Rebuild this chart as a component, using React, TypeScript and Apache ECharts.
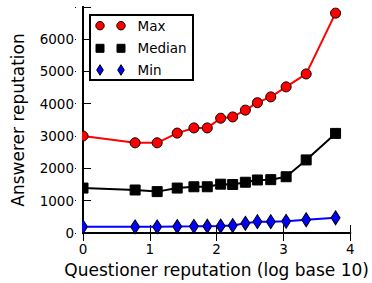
import React, { useEffect, useRef } from "react";
import * as echarts from "echarts";

const xs = [0, 0.78, 1.11, 1.41, 1.66, 1.86, 2.06, 2.24, 2.43, 2.61, 2.81, 3.04, 3.34, 3.78];
const maxV = [3000, 2790, 2790, 3090, 3250, 3250, 3550, 3590, 3800, 4030, 4210, 4520, 4920, 6800];
const medianV = [1390, 1330, 1280, 1390, 1430, 1430, 1510, 1500, 1570, 1640, 1650, 1740, 2260, 3080];
const minV = [190, 190, 190, 200, 205, 210, 215, 230, 300, 350, 350, 360, 410, 470];
const seriesNames = ["Max", "Median", "Min"];
const seriesColors = ["#ff0000", "#000000", "#0000ff"];
const xTitle = "Questioner reputation (log base 10)";
const yTitle = "Answerer reputation";

const FONT = "DejaVu Sans";

function legendGraphic() {
  const left = 90, top = 15, w = 103, h = 65;
  const rows = [25.7, 48.3, 70];
  const mx = [100, 121];
  const children: any[] = [
    { type: "rect", shape: { x: left, y: top, width: w, height: h }, style: { fill: "#fff", stroke: "#000", lineWidth: 2 } },
  ];
  rows.forEach((cy, i) => {
    mx.forEach((cx) => {
      const style = { fill: seriesColors[i], stroke: "#000", lineWidth: 1 };
      if (i === 0) children.push({ type: "circle", shape: { cx, cy, r: 4.2 }, style });
      else if (i === 1) children.push({ type: "rect", shape: { x: cx - 4, y: cy - 4, width: 8, height: 8 }, style });
      else children.push({ type: "polygon", shape: { points: [[cx, cy - 5.3], [cx + 3.3, cy], [cx, cy + 5.3], [cx - 3.3, cy]] }, style });
    });
    children.push({
      type: "text", x: 137.5, y: cy,
      style: { text: seriesNames[i], fill: "#000", font: `13.5px "${FONT}"`, verticalAlign: "middle", align: "left" },
    });
  });
  return { type: "group", z: 110, children };
}

export default function App() {
  const ref = useRef<HTMLDivElement>(null);
  useEffect(() => {
    if (!ref.current) return;
    const chart = echarts.init(ref.current, undefined, { renderer: "svg" });
    const pair = (v: number[]) => xs.map((x, i) => [x, v[i]]);
    const axisLine = { show: true, lineStyle: { color: "#000", width: 2 } };
    const tick = { show: true, inside: true, length: 8, lineStyle: { color: "#000", width: 1 } };
    const label = { color: "#000", fontFamily: FONT, fontSize: 13.5 };
    chart.setOption({
      animation: false,
      backgroundColor: "#fff",
      grid: { left: 83, right: 20, top: 7, bottom: 49, containLabel: false },
      xAxis: [
        {
          type: "value", min: 0, max: 4, interval: 1, position: "bottom",
          axisLine, axisTick: tick, splitLine: { show: false },
          axisLabel: { ...label, margin: 9 },
          name: xTitle, nameLocation: "middle", nameGap: 28,
          nameTextStyle: { color: "#000", fontFamily: FONT, fontSize: 17 },
        },
        {
          type: "value", min: 0, max: 4, interval: 1, position: "top",
          axisLine, axisTick: tick, splitLine: { show: false }, axisLabel: { show: false },
        },
      ],
      yAxis: [
        {
          type: "value", min: 0, max: 6990, interval: 1000, position: "left",
          axisLine, axisTick: tick, splitLine: { show: false },
          axisLabel: { ...label, margin: 9, formatter: (v: number) => (v % 1000 === 0 ? String(v) : "") },
          name: yTitle, nameLocation: "middle", nameGap: 57,
          nameTextStyle: { color: "#000", fontFamily: FONT, fontSize: 17 },
        },
        {
          type: "value", min: 0, max: 6990, interval: 1000, position: "right",
          axisLine, axisTick: tick, splitLine: { show: false }, axisLabel: { show: false },
        },
      ],
      series: [
        {
          name: seriesNames[0], type: "line", data: pair(maxV),
          symbol: "circle", symbolSize: 10,
          lineStyle: { color: seriesColors[0], width: 2 },
          itemStyle: { color: seriesColors[0], borderColor: "#000", borderWidth: 1 },
        },
        {
          name: seriesNames[1], type: "line", data: pair(medianV),
          symbol: "rect", symbolSize: 10,
          lineStyle: { color: seriesColors[1], width: 2 },
          itemStyle: { color: seriesColors[1], borderColor: "#000", borderWidth: 1 },
        },
        {
          name: seriesNames[2], type: "line", data: pair(minV),
          symbol: "diamond", symbolSize: [9, 14],
          lineStyle: { color: seriesColors[2], width: 2 },
          itemStyle: { color: seriesColors[2], borderColor: "#000", borderWidth: 1 },
        },
      ],
      graphic: [
        { type: "rect", left: 76, top: 7, z: 100, shape: { width: 6, height: 232 }, style: { fill: "#fff" } },
        legendGraphic(),
      ],
    });
    return () => chart.dispose();
  }, []);
  return <div ref={ref} style={{ width: 372, height: 283, position: "absolute", left: 0, top: 0 }} />;
}
